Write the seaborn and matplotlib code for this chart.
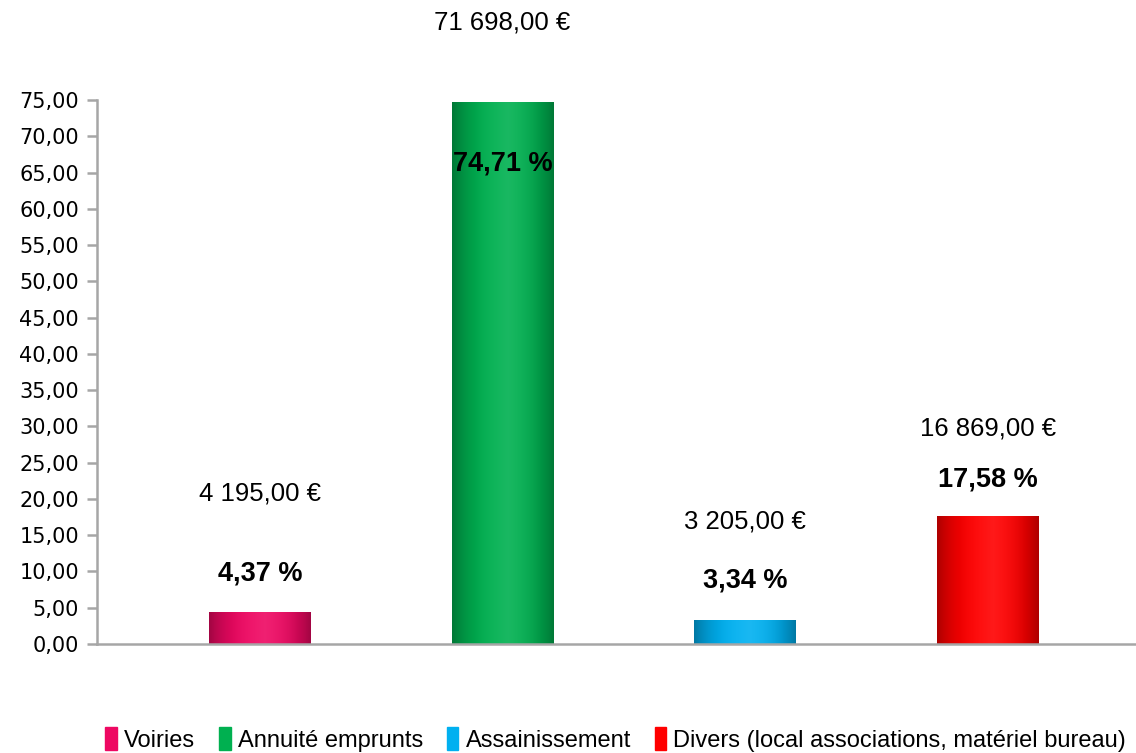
import numpy as np
import matplotlib
matplotlib.use('Agg')
import matplotlib.pyplot as plt
import matplotlib.colors as mcolors
import seaborn as sns
from matplotlib.ticker import FuncFormatter, MultipleLocator

# data
categories = ['Voiries', 'Annuité emprunts', 'Assainissement',
              'Divers (local associations, matériel bureau)']
percent = [4.37, 74.71, 3.34, 17.58]
amounts = ['4 195,00 €', '71 698,00 €', '3 205,00 €', '16 869,00 €']
percent_labels = ['4,37 %', '74,71 %', '3,34 %', '17,58 %']

# styling
colors = ['#EE0862', '#00B050', '#00B0F0', '#FF0000']
pct_offset = [39, -61, 39, 37]      # px from bar top
amt_offset = [119, 80, 98, 88]

sns.set_style('white')
plt.rcParams['font.family'] = ['Liberation Sans', 'DejaVu Sans']
plt.rcParams['text.color'] = 'black'
plt.rcParams['ytick.labelcolor'] = 'black'

fig = plt.figure(figsize=(11.36, 7.53), dpi=100)
ax = fig.add_axes([97 / 1136, 1 - 644 / 753, 1 - 97 / 1136, 544 / 753])

sns.barplot(x=categories, y=percent, hue=categories, palette=colors,
            width=0.42, ax=ax, legend=False, saturation=1)


def shade(c, t):
    rgb = np.array(mcolors.to_rgb(c))
    d = abs(2 * t - 1)
    dark = 0.32 * d ** 2.5
    light = 0.10 * max(0, 1 - abs(t - 0.55) * 3)
    out = rgb * (1 - dark)
    out = out + (1 - out) * light
    return np.clip(out, 0, 1)


# cylinder-like gradient on each bar
for patch, c in zip(ax.patches, colors):
    x0, w, h = patch.get_x(), patch.get_width(), patch.get_height()
    ts = np.linspace(0, 1, 200)
    img = np.array([[shade(c, t) for t in ts]])
    im = ax.imshow(img, extent=(x0, x0 + w, 0, h), aspect='auto',
                   zorder=patch.get_zorder() + 0.1, interpolation='bicubic')
    im.set_clip_path(patch)

ax.set_xlim(-0.672, 3.612)
ax.set_ylim(0, 75)
ax.yaxis.set_major_locator(MultipleLocator(5))
ax.yaxis.set_major_formatter(FuncFormatter(lambda v, p: f'{v:.2f}'.replace('.', ',')))
ax.set_xticks([])
ax.set_xlabel('')
ax.set_ylabel('')
sns.despine(ax=ax, top=True, right=True)
for s in ('left', 'bottom'):
    ax.spines[s].set_color('#A6A6A6')
    ax.spines[s].set_linewidth(1.8)
ax.tick_params(axis='y', left=True, length=7, width=1.8, color='#A6A6A6',
               labelsize=15, pad=6, labelcolor='black')
for lab in ax.get_yticklabels():
    lab.set_family(['DejaVu Sans'])

for i, (p, amt, pl) in enumerate(zip(percent, amounts, percent_labels)):
    ax.annotate(pl, xy=(i, p), xytext=(0, pct_offset[i] * 0.72),
                textcoords='offset points', ha='center', va='center',
                fontsize=19.5, fontweight='bold', annotation_clip=False,
                zorder=5, color='black')
    ax.annotate(amt, xy=(i, p), xytext=(0, amt_offset[i] * 0.72),
                textcoords='offset points', ha='center', va='center',
                fontsize=18.5, annotation_clip=False, zorder=5, color='black')

handles = [plt.Rectangle((0, 0), 1, 1, color=c) for c in colors]
fig.legend(handles, categories, loc='center left', bbox_to_anchor=(0.074, 0.018),
           ncol=4, frameon=False, handlelength=0.5, handleheight=1.1,
           handletextpad=0.3, columnspacing=1.0, labelcolor='black',
           prop={'size': 17})

fig.savefig('out.png', dpi=100)
